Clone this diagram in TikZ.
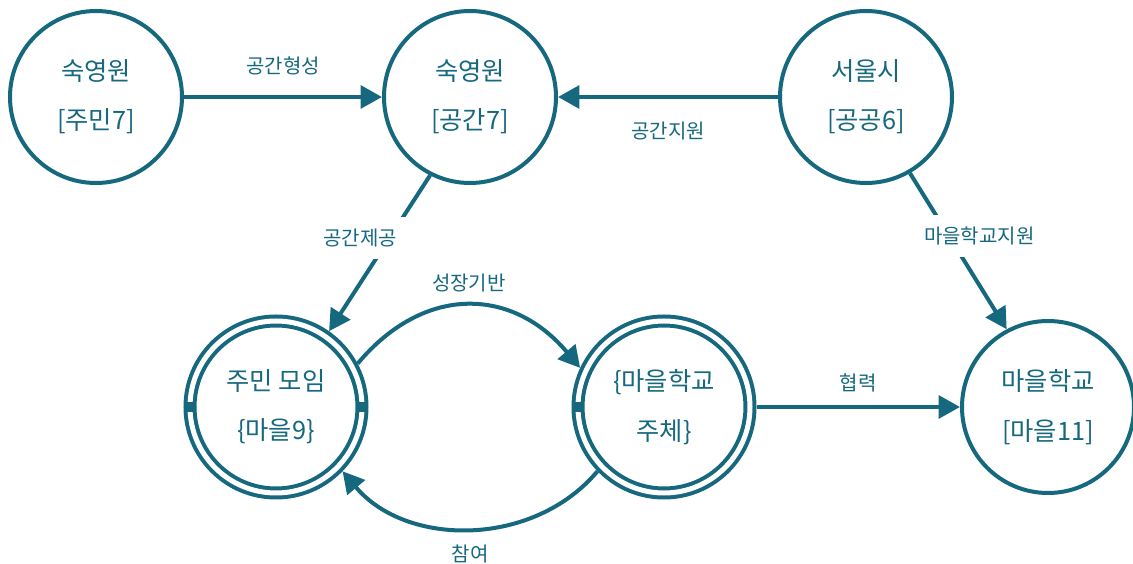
\documentclass[tikz,border=0pt]{standalone}
\usepackage{fontspec}
\setmainfont{Noto Sans CJK KR}
\usepackage{tikz}
\usetikzlibrary{arrows.meta,positioning}
\definecolor{ink}{RGB}{22,104,126}
\tikzset{
  place/.style={circle,draw=ink,line width=3pt,minimum size=129pt,inner sep=0pt,
    align=center,text=ink,font=\fontsize{19}{37}\selectfont},
  hub/.style={place,double=white,double distance=3.75pt,outer sep=4.9pt},
  flow/.style={draw=ink,line width=3pt,-{Triangle[length=16pt,width=17pt]}},
  tag/.style={text=ink,font=\fontsize{15}{17}\selectfont,inner sep=3pt},
}
\begin{document}
\begin{tikzpicture}[x=0.75pt,y=0.75pt]
  \useasboundingbox (0,0) rectangle (1133,564);
  \node[place] (resid)  at (96,467)   {숙영원\\{[주민7]}};
  \node[place] (space)  at (470,467)  {숙영원\\{[공간7]}};
  \node[place] (seoul)  at (866,467)  {서울시\\{[공공6]}};
  \node[hub]   (moim)   at (276,157)  {주민 모임\\\{마을9\}};
  \node[hub]   (subj)   at (664,157)  {\{마을학교\\주체\}};
  \node[place] (school) at (1048,157) {마을학교\\{[마을11]}};
  \foreach \n/\a in {moim/180,moim/0,subj/180}
    \fill[ink] (\n.center) ++(\a:64.5pt) ++(-4pt,-3.5pt) rectangle ++(8pt,7pt);
  \draw[flow] (resid) -- node[tag,above=12pt]{공간형성} (space);
  \draw[flow] (seoul) -- node[tag,below=14pt]{공간지원} (space);
  \draw[flow] (space.243) --
    node[tag,fill=white,pos=0.4,xshift=-22pt,inner sep=9pt]{공간제공} (moim.55);
  \draw[flow] (seoul.300) --
    node[tag,fill=white,pos=0.4,xshift=23pt,inner sep=9pt]{마을학교지원} (school.118);
  \draw[flow] (moim.28) to[out=50,in=130,looseness=1.2]
    node[tag,above=6pt]{성장기반} (subj.155);
  \draw[flow] (subj.224) to[out=230,in=310]
    node[tag,below=8pt]{참여} (moim.316);
  \draw[flow] (subj) -- node[tag,above=7pt]{협력} (school);
\end{tikzpicture}
\end{document}
